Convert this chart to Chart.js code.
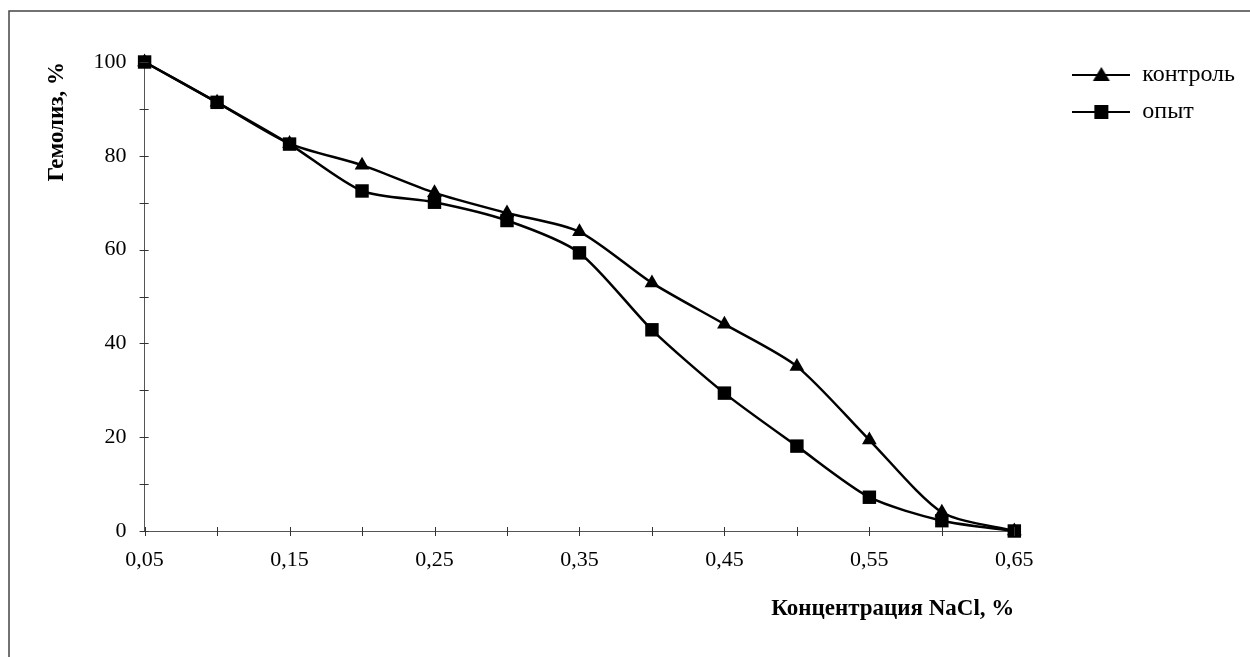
<!DOCTYPE html>
<html>
<head>
<meta charset="utf-8">
<script src="https://cdn.jsdelivr.net/npm/chart.js@4/dist/chart.umd.min.js"></script>
<style>
html,body{margin:0;padding:0;background:#fff;}
#wrap{width:1250px;height:657px;position:relative;}
</style>
</head>
<body>
<div id="wrap"><canvas id="c" width="1250" height="657"></canvas></div>
<script>
// ---- data ----
const concentration = [0.05, 0.10, 0.15, 0.20, 0.25, 0.30, 0.35, 0.40, 0.45, 0.50, 0.55, 0.60, 0.65];
const controlValues = [100, 91.4, 82.6, 78.0, 72.1, 67.8, 63.8, 52.9, 44.1, 35.1, 19.4, 4.0, 0];
const experimentValues = [100, 91.4, 82.5, 72.5, 70.1, 66.2, 59.3, 42.9, 29.4, 18.1, 7.2, 2.2, 0];
const xTickLabels = ['0,05', '0,15', '0,25', '0,35', '0,45', '0,55', '0,65'];
const yTickLabels = ['0', '20', '40', '60', '80', '100'];
const seriesNames = ['контроль', 'опыт'];
const xTitle = 'Концентрация NaCl, %';
const yTitle = 'Гемолиз, %';

const SERIF = '"Liberation Serif", "DejaVu Serif", serif';

function toPoints(vals){ return concentration.map((x,i)=>({x:x, y:vals[i]})); }

function legendImage(style){
  const c = document.createElement('canvas');
  c.width = 58; c.height = 20;
  const g = c.getContext('2d');
  g.strokeStyle = '#000'; g.lineWidth = 2;
  g.beginPath(); g.moveTo(0,10); g.lineTo(58,10); g.stroke();
  g.fillStyle = '#000';
  if (style === 'triangle'){
    g.beginPath(); g.moveTo(29,2); g.lineTo(37.5,16); g.lineTo(20.5,16); g.closePath(); g.fill();
  } else {
    g.fillRect(22,3,14,14);
  }
  return c;
}

const framePlugin = {
  id: 'frame',
  beforeDraw(chart){
    const ctx = chart.ctx;
    ctx.save();
    ctx.strokeStyle = '#444'; ctx.lineWidth = 1.5;
    ctx.beginPath();
    ctx.moveTo(9, chart.height); ctx.lineTo(9, 11); ctx.lineTo(chart.width, 11);
    ctx.stroke();
    ctx.restore();
  }
};

// nudge the legend box up/right a little (it sits near the top edge in the original)
const legendNudge = {
  id: 'legendNudge',
  afterLayout(chart){
    const lg = chart.legend;
    if (!lg) return;
    lg.top -= 12; lg.bottom -= 12;
    lg.left += 3; lg.right += 3;
  }
};

const crossTicks = {
  id: 'crossTicks',
  afterDatasetsDraw(chart){
    const ctx = chart.ctx;
    const xs = chart.scales.x, ys = chart.scales.y;
    ctx.save();
    ctx.strokeStyle = '#333'; ctx.lineWidth = 1;
    ctx.beginPath();
    xs.ticks.forEach(t=>{
      const p = Math.round(xs.getPixelForValue(t.value)) + 0.5;
      ctx.moveTo(p, ys.bottom - 4); ctx.lineTo(p, ys.bottom + 5);
    });
    ys.ticks.forEach(t=>{
      const p = Math.round(ys.getPixelForValue(t.value)) + 0.5;
      ctx.moveTo(xs.left - 5, p); ctx.lineTo(xs.left + 4, p);
    });
    ctx.stroke();
    ctx.restore();
  }
};

new Chart(document.getElementById('c'), {
  type: 'line',
  data: {
    datasets: [
      {
        label: seriesNames[0],
        data: toPoints(controlValues),
        borderColor: '#000', backgroundColor: '#000',
        borderWidth: 2.5, pointStyle: 'triangle', pointRadius: 8.5,
        pointBorderWidth: 0, tension: 0.25, order: 1, clip: false
      },
      {
        label: seriesNames[1],
        data: toPoints(experimentValues),
        borderColor: '#000', backgroundColor: '#000',
        borderWidth: 2.5, pointStyle: 'rect', pointRadius: 9.5,
        pointBorderWidth: 0, tension: 0.25, order: 0, clip: false
      }
    ]
  },
  options: {
    responsive: false,
    animation: false,
    devicePixelRatio: 1,
    layout: { padding: { left: 43, right: 8, top: 62, bottom: 34 } },
    plugins: {
      tooltip: { enabled: false },
      legend: {
        position: 'right', align: 'start',
        labels: {
          usePointStyle: true, pointStyleWidth: 58,
          padding: 13, color: '#000',
          font: { family: SERIF, size: 24 },
          generateLabels(chart){
            return chart.data.datasets.map((ds,i)=>({
              text: ds.label, datasetIndex: i,
              pointStyle: legendImage(i===0 ? 'triangle' : 'rect'),
              fillStyle: '#000', strokeStyle: '#000', lineWidth: 0, fontColor: '#000', hidden: false
            }));
          }
        }
      }
    },
    scales: {
      x: {
        type: 'linear', min: 0.05, max: 0.65,
        grid: { drawOnChartArea: false, drawTicks: false },
        border: { color: '#555', width: 1 },
        afterBuildTicks(scale){ scale.ticks = concentration.map(v=>({value:v})); },
        ticks: {
          padding: 16, color: '#000', maxRotation: 0, autoSkip: false,
          font: { family: SERIF, size: 22 },
          callback(v, i){ return i % 2 === 0 ? xTickLabels[i/2] : ''; }
        },
        title: { display: true, text: xTitle, align: 'end', color: '#000',
          font: { family: SERIF, size: 23, weight: 'bold' }, padding: { top: 6, bottom: 0 } }
      },
      y: {
        min: 0, max: 100,
        grid: { drawOnChartArea: false, drawTicks: false },
        border: { color: '#555', width: 1 },
        ticks: {
          stepSize: 10, padding: 18, color: '#000', autoSkip: false,
          font: { family: SERIF, size: 22 },
          callback(v){ return v % 20 === 0 ? yTickLabels[v/20] : ''; }
        },
        title: { display: true, text: yTitle, align: 'end', color: '#000',
          font: { family: SERIF, size: 23, weight: 'bold' }, padding: { top: 0, bottom: 5 } }
      },
      spacer: {
        type: 'linear', position: 'right', display: true,
        grid: { display: false }, border: { display: false },
        ticks: { display: false },
        afterFit(scale){ scale.width = 42; }
      }
    }
  },
  plugins: [framePlugin, legendNudge, crossTicks]
});
</script>
</body>
</html>
